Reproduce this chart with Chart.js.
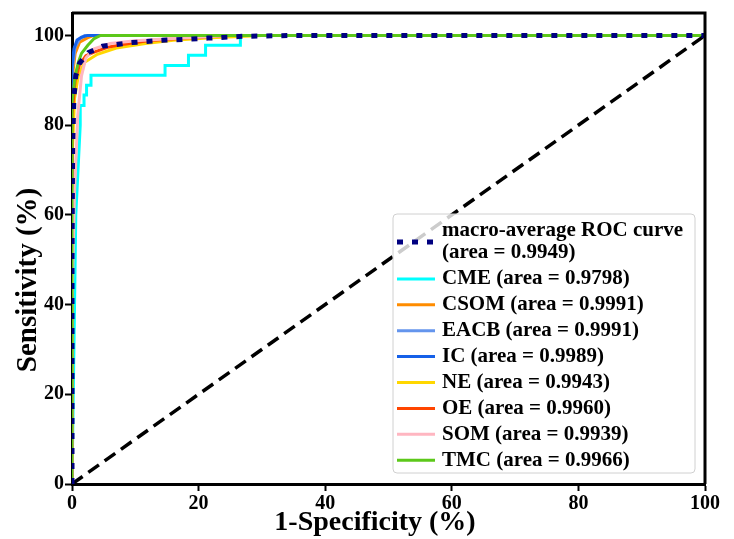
<!DOCTYPE html>
<html>
<head>
<meta charset="utf-8">
<script src="https://cdn.jsdelivr.net/npm/chart.js@4.4.1/dist/chart.umd.min.js"></script>
<style>
  body { margin: 0; background: #fff; }
</style>
</head>
<body>
<canvas id="canvas" width="734" height="539"></canvas>
<script>
// ticks
const xTicks = [0, 20, 40, 60, 80, 100];
const yTicks = [0, 20, 40, 60, 80, 100];

// classes (1-specificity %, sensitivity %)
const names = ['CME', 'CSOM', 'EACB', 'IC', 'NE', 'OE', 'SOM', 'TMC'];
const areas = [0.9798, 0.9991, 0.9991, 0.9989, 0.9943, 0.9960, 0.9939, 0.9966];
const colors = ['#00FFFF', '#FF8C00', '#6495ED', '#1560E8', '#FFD700', '#FF4500', '#FFB6C1', '#5CC81A'];

const cmeX  = [0, 0.6, 1.3, 1.3, 1.9, 1.9, 2.3, 2.3, 3.0, 3.0, 14.7, 14.7, 18.4, 18.4, 21.1, 21.1, 26.6, 26.6, 100];
const cmeY  = [0, 60, 80, 84.4, 84.4, 86.7, 86.7, 88.9, 88.9, 91.1, 91.1, 93.3, 93.3, 95.6, 95.6, 97.8, 97.8, 100, 100];
const csomX = [0, 0, 0.5, 1.2, 2.5, 3.5, 100];
const csomY = [0, 90, 96, 98.5, 99.5, 100, 100];
const eacbX = [0, 0, 0.5, 1.2, 2, 100];
const eacbY = [0, 92, 97.5, 99.2, 100, 100];
const icX   = [0, 0, 0.3, 0.8, 1.5, 2.5, 100];
const icY   = [0, 93, 97, 99, 99.6, 100, 100];
const neX   = [0, 0, 0.4, 1, 2, 4, 7, 11.6, 16, 22, 30, 100];
const neY   = [0, 72, 86, 91, 94, 95.8, 97.2, 98.2, 98.9, 99.5, 100, 100];
const oeX   = [0, 0, 0.5, 1.2, 2.2, 3.5, 5.5, 8, 12, 18, 25, 100];
const oeY   = [0, 82, 90, 93.5, 95.5, 96.3, 97.3, 98, 98.8, 99.4, 100, 100];
const somX  = [0, 0, 0.4, 0.9, 1.5, 2.2, 3.5, 6, 10, 16, 25, 100];
const somY  = [0, 40, 65, 82, 91, 95, 97, 98.2, 98.8, 99.3, 100, 100];
const tmcX  = [0, 0, 0.5, 1, 1.5, 2.5, 3.5, 4.5, 100];
const tmcY  = [0, 85, 91, 94, 96, 97.8, 99.3, 100, 100];

const classX = [cmeX, csomX, eacbX, icX, neX, oeX, somX, tmcX];
const classY = [cmeY, csomY, eacbY, icY, neY, oeY, somY, tmcY];

// macro average
const macroArea = 0.9949;
const macroX = [0, 0, 0.1, 0.3, 0.6, 1.2, 2.6, 4.8, 9.5, 14.3, 21.5, 27, 35, 100];
const macroY = [0, 50, 75, 86, 91, 93.8, 96.2, 97.6, 98.4, 98.9, 99.4, 99.8, 100, 100];

// chance line
const diagX = [0, 100];
const diagY = [0, 100];

function pts(xs, ys) {
  return xs.map((x, i) => ({x: x, y: ys[i]}));
}

const FONT = '"Liberation Serif", "Times New Roman", serif';

let datasets = [];
datasets.push({
  label: 'macro-average ROC curve\n(area = ' + macroArea.toFixed(4) + ')',
  data: pts(macroX, macroY),
  borderColor: '#000080',
  borderWidth: 5,
  borderDash: [6, 9],
  order: 0,
  inLegend: true
});
datasets.push({
  label: 'chance',
  data: pts(diagX, diagY),
  borderColor: '#000',
  borderWidth: 3.5,
  borderDash: [13, 7],
  order: 1,
  inLegend: false
});
for (let i = 0; i < names.length; i++) {
  datasets.push({
    label: names[i] + ' (area = ' + areas[i].toFixed(4) + ')',
    data: pts(classX[i], classY[i]),
    borderColor: colors[i],
    borderWidth: 3,
    // later classes sit on top, like the original plot
    order: 2 + names.length - i,
    inLegend: true
  });
}

// box, axis titles and legend
const extras = {
  id: 'extras',
  afterDatasetsDraw(chart) {
    const ctx = chart.ctx;
    const a = chart.chartArea;
    ctx.save();
    ctx.strokeStyle = '#000';
    ctx.lineWidth = 3;
    ctx.beginPath();
    ctx.moveTo(a.left, a.top);
    ctx.lineTo(a.right, a.top);
    ctx.lineTo(a.right, a.bottom);
    ctx.stroke();

    // axis titles
    ctx.fillStyle = '#000';
    ctx.font = 'bold 28px ' + FONT;
    ctx.textAlign = 'center';
    ctx.textBaseline = 'middle';
    ctx.fillText('1-Specificity (%)', 375, 523);
    ctx.save();
    ctx.translate(29, 280);
    ctx.rotate(-Math.PI / 2);
    ctx.font = 'bold 29px ' + FONT;
    ctx.fillText('Sensitivity (%)', 0, 0);
    ctx.restore();

    // legend
    const bx = 393, by = 214, bw = 302, bh = 259;
    ctx.fillStyle = 'rgba(255,255,255,0.8)';
    ctx.strokeStyle = '#d0d0d0';
    ctx.lineWidth = 1;
    ctx.beginPath();
    ctx.roundRect(bx, by, bw, bh, 4);
    ctx.fill();
    ctx.stroke();

    ctx.font = 'bold 21px ' + FONT;
    ctx.textAlign = 'left';
    let y = 231;
    const rowH = 25.9;
    const lineH = 22;
    chart.data.datasets.forEach(ds => {
      if (!ds.inLegend) return;
      const lines = ds.label.split('\n');
      const mid = y + (lines.length - 1) * lineH / 2;
      ctx.save();
      ctx.strokeStyle = ds.borderColor;
      ctx.lineWidth = ds.borderWidth;
      ctx.setLineDash(ds.borderDash || []);
      ctx.beginPath();
      ctx.moveTo(397, mid);
      ctx.lineTo(435, mid);
      ctx.stroke();
      ctx.restore();
      ctx.fillStyle = '#000';
      lines.forEach((t, k) => {
        ctx.fillText(t, 442, y + k * lineH);
      });
      y += lineH * (lines.length - 1) + rowH;
    });
    ctx.restore();
  }
};

new Chart(document.getElementById('canvas'), {
  type: 'line',
  data: { datasets: datasets },
  options: {
    responsive: false,
    animation: false,
    devicePixelRatio: 1,
    layout: { padding: { left: 0, right: 29, top: 12, bottom: 0 } },
    elements: {
      point: { radius: 0 },
      line: { tension: 0, borderCapStyle: 'butt' }
    },
    plugins: {
      legend: { display: false },
      tooltip: { enabled: false }
    },
    scales: {
      x: {
        type: 'linear',
        min: 0,
        max: 100,
        afterBuildTicks: s => { s.ticks = xTicks.map(v => ({value: v})); },
        afterFit: s => { s.height = 55; },
        grid: { drawOnChartArea: false, drawTicks: true, tickLength: 7, tickWidth: 2, tickColor: '#000' },
        border: { display: true, color: '#000', width: 3 },
        ticks: { color: '#000', padding: 1, maxRotation: 0, font: { family: FONT, size: 20, weight: 'bold' } }
      },
      y: {
        type: 'linear',
        min: 0,
        max: 105,
        afterBuildTicks: s => { s.ticks = yTicks.map(v => ({value: v})); },
        afterFit: s => { s.width = 72; },
        grid: { drawOnChartArea: false, drawTicks: true, tickLength: 7, tickWidth: 2, tickColor: '#000' },
        border: { display: true, color: '#000', width: 3 },
        ticks: { color: '#000', padding: 1, font: { family: FONT, size: 20, weight: 'bold' } }
      }
    }
  },
  plugins: [extras]
});
</script>
</body>
</html>
